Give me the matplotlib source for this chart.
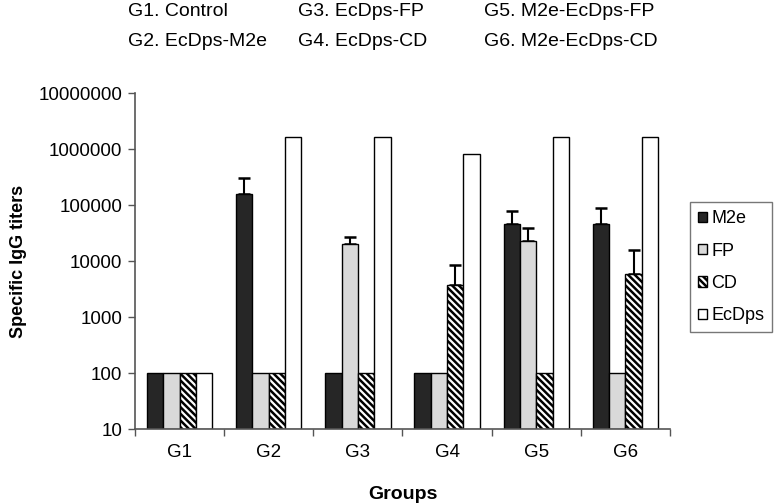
import numpy as np
import matplotlib
matplotlib.use('Agg')
import matplotlib.pyplot as plt
from matplotlib.ticker import FixedLocator, FuncFormatter, NullLocator

plt.rcParams['font.family'] = ['Liberation Sans', 'DejaVu Sans']
plt.rcParams['hatch.linewidth'] = 1.8

groups = ['G1', 'G2', 'G3', 'G4', 'G5', 'G6']
series = ['M2e', 'FP', 'CD', 'EcDps']

# titers per antigen (geometric means)
m2e = [100, 160000, 100, 100, 45000, 45000]
fp = [100, 100, 20000, 100, 23000, 100]
cd = [100, 100, 100, 3700, 100, 5800]
ecdps = [100, 1638400, 1638400, 819200, 1638400, 1638400]

# upper end of the error bars (0 = no bar)
m2e_top = [0, 300000, 0, 0, 78000, 88000]
fp_top = [0, 0, 27000, 0, 39000, 0]
cd_top = [0, 0, 0, 8500, 0, 16000]
ecdps_top = [0, 0, 0, 0, 0, 0]

header = [
    ('G1. Control', 'G2. EcDps-M2e'),
    ('G3. EcDps-FP', 'G4. EcDps-CD'),
    ('G5. M2e-EcDps-FP', 'G6. M2e-EcDps-CD'),
]

fig = plt.figure(figsize=(7.74, 5.03), dpi=100)
ax = fig.add_axes([0.1744, 0.1471, 0.6912, 0.668])

values = [m2e, fp, cd, ecdps]
tops = [m2e_top, fp_top, cd_top, ecdps_top]
colors = ['#262626', '#d9d9d9', 'white', 'white']
hatches = [None, None, '\\\\\\\\\\', None]

x = np.arange(len(groups))
w = 0.183
bottom = 10
for i, (vals, top) in enumerate(zip(values, tops)):
    pos = x + (i - 1.5) * w
    vals = np.array(vals, dtype=float)
    ax.bar(pos, vals - bottom, w, bottom=bottom, color=colors[i], edgecolor='black',
           linewidth=1.0, hatch=hatches[i], label=series[i], zorder=2)
    top = np.array(top, dtype=float)
    has = top > 0
    if has.any():
        ax.errorbar(pos[has], vals[has], yerr=[np.zeros(has.sum()), top[has] - vals[has]],
                    fmt='none', ecolor='black', elinewidth=1.5, capsize=4, capthick=1.8, zorder=1)

ax.set_yscale('log')
ax.set_ylim(10, 1e7)
ax.set_xlim(-0.5, 5.5)
ax.yaxis.set_major_locator(FixedLocator([10 ** k for k in range(1, 8)]))
ax.yaxis.set_minor_locator(NullLocator())
ax.yaxis.set_major_formatter(FuncFormatter(lambda v, p: f'{int(round(v))}'))

# ticks at group boundaries, labels at group centers
ax.xaxis.set_major_locator(FixedLocator(np.arange(-0.5, 6.0, 1.0)))
ax.xaxis.set_major_formatter(FuncFormatter(lambda v, p: ''))
ax.xaxis.set_minor_locator(FixedLocator(x))
ax.set_xticklabels(groups, minor=True)
ax.tick_params(axis='x', which='minor', length=0, pad=11, labelsize=13.5)
ax.tick_params(axis='x', which='major', length=5, width=1, color='#555555')
ax.tick_params(axis='y', length=5, width=1, color='#555555', labelsize=13.5, pad=4)

for s in ['top', 'right']:
    ax.spines[s].set_visible(False)
for s in ['left', 'bottom']:
    ax.spines[s].set_color('#555555')
    ax.spines[s].set_linewidth(1.2)

ax.set_xlabel('Groups', fontsize=14, fontweight='bold', labelpad=18)
ax.set_ylabel('Specific IgG titers', fontsize=13, fontweight='bold', labelpad=8)

leg = ax.legend(loc='upper left', bbox_to_anchor=(1.038, 0.675), fontsize=13,
                frameon=True, fancybox=False, edgecolor='#555555', handlelength=0.5,
                handleheight=0.5, handletextpad=0.2, labelspacing=0.85, borderpad=0.45,
                borderaxespad=0)
leg.get_frame().set_linewidth(1.0)

# group key at the top
cols_x = [128, 298, 484]
for cx, (a, b) in zip(cols_x, header):
    fig.text(cx / 774, 1 - 12 / 503, a, fontsize=14, va='center', ha='left')
    fig.text(cx / 774, 1 - 42 / 503, b, fontsize=14, va='center', ha='left')

fig.savefig('out.png', dpi=100)
